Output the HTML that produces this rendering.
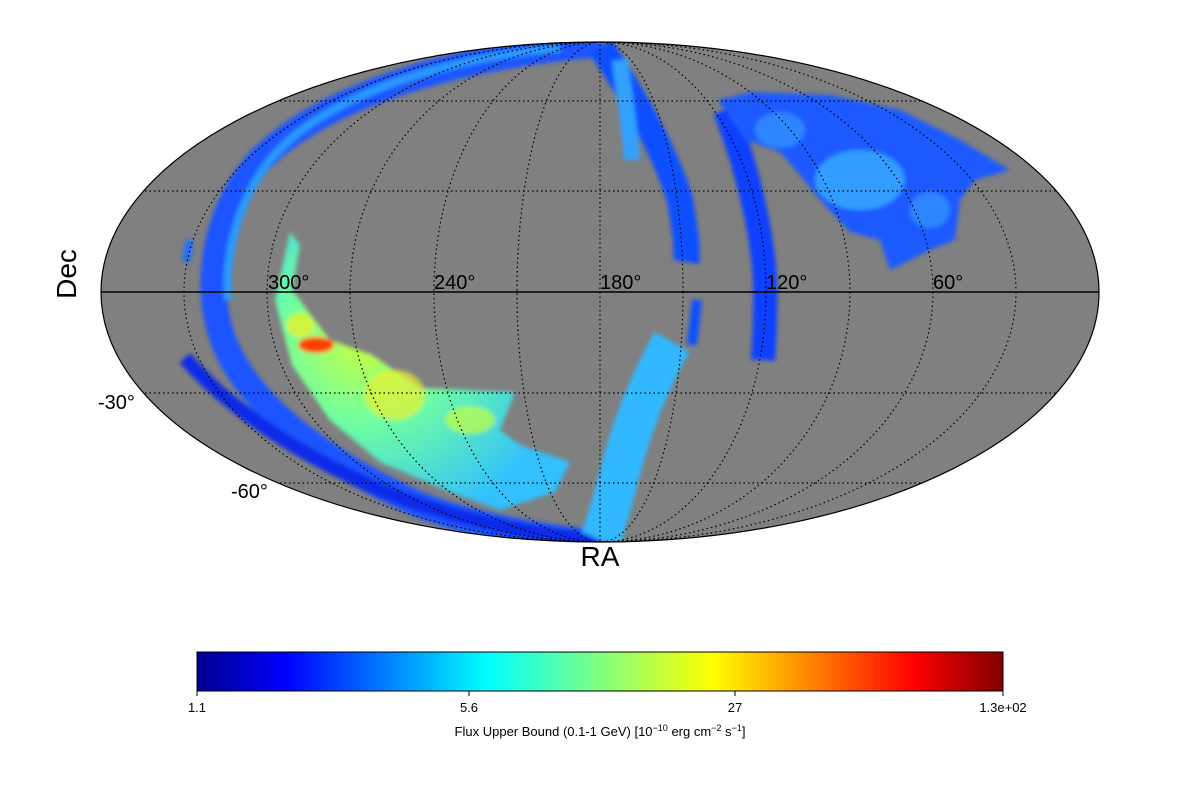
<!DOCTYPE html>
<html><head><meta charset="utf-8"><style>
html,body{margin:0;padding:0;background:#fff;width:1200px;height:800px;overflow:hidden}
svg{display:block}
text{font-family:"Liberation Sans","DejaVu Sans",sans-serif}
</style></head><body>
<svg width="1200" height="800" viewBox="0 0 1200 800">
<defs>
<clipPath id="ell"><ellipse cx="600" cy="292" rx="499" ry="250"/></clipPath>
<linearGradient id="jet" x1="0" x2="1" y1="0" y2="0">
<stop offset="0" stop-color="#00008f"/>
<stop offset="0.11" stop-color="#0000ff"/>
<stop offset="0.36" stop-color="#00ffff"/>
<stop offset="0.5" stop-color="#80ff80"/>
<stop offset="0.64" stop-color="#ffff00"/>
<stop offset="0.89" stop-color="#ff0000"/>
<stop offset="1" stop-color="#800000"/>
</linearGradient>
<radialGradient id="grn" cx="0.3" cy="0.4" r="0.7">
<stop offset="0" stop-color="#c8ff40"/>
<stop offset="0.4" stop-color="#70ffa0"/>
<stop offset="1" stop-color="#30c0ff"/>
</radialGradient>
<filter id="bl"><feGaussianBlur stdDeviation="2"/></filter>
</defs>
<ellipse cx="600" cy="292" rx="499" ry="250" fill="#808080"/>
<g clip-path="url(#ell)" filter="url(#bl)">
<!-- outer left arc -->
<path d="M600,44 C470,55 330,90 260,160 C215,210 205,280 220,330 C240,400 320,460 420,505 C480,528 560,540 600,542" fill="none" stroke="#1a55ff" stroke-width="26"/>
<path d="M560,48 C430,60 320,100 270,160 C235,205 225,260 228,300" fill="none" stroke="#2a9aff" stroke-width="8"/>
<path d="M185,358 C230,410 300,455 380,490 C450,518 530,535 600,540" fill="none" stroke="#0a2ce8" stroke-width="14"/>
<path d="M190,240 L186,262" stroke="#1a70ff" stroke-width="8"/>
<!-- big green patch -->
<path d="M290,232 L300,245 L292,290 L330,340 L372,355 L420,388 L515,392 L500,430 L520,445 L570,462 L555,492 L500,510 L450,492 L380,462 L330,420 L292,365 L275,300 Z" fill="url(#grn)"/>
<ellipse cx="395" cy="395" rx="30" ry="25" fill="#e8f030" opacity="0.7"/>
<ellipse cx="470" cy="420" rx="25" ry="14" fill="#c0ff40" opacity="0.7"/>
<ellipse cx="316" cy="345" rx="18" ry="8" fill="#ff4000"/>
<ellipse cx="300" cy="325" rx="14" ry="12" fill="#f0f020" opacity="0.7"/>
<!-- southern middle band -->
<path d="M672,342 C650,380 630,430 618,480 C610,510 605,528 600,540" fill="none" stroke="#30b8ff" stroke-width="40"/>
<!-- northern band right of 180 -->
<path d="M600,46 C630,90 665,150 680,200 C685,230 688,250 686,262" fill="none" stroke="#1050ff" stroke-width="26"/>
<path d="M620,60 C625,100 630,130 632,160" fill="none" stroke="#30a0ff" stroke-width="16"/>
<!-- band near 120 -->
<path d="M725,110 C748,170 762,230 765,280 C766,320 764,345 763,360" fill="none" stroke="#0c40ff" stroke-width="24"/>
<path d="M697,300 L692,345" stroke="#1050ff" stroke-width="10"/>
<!-- NE patch -->
<path d="M718,100 L752,92 L830,95 L900,110 L960,140 L1010,170 L975,180 L960,200 L955,240 L930,250 L890,270 L880,240 L850,232 L820,200 L800,175 L780,152 L745,140 Z" fill="#1a5aff"/>
<ellipse cx="860" cy="180" rx="45" ry="30" fill="#40c8ff" opacity="0.6"/>
<ellipse cx="780" cy="130" rx="25" ry="18" fill="#40b0ff" opacity="0.5"/>
<ellipse cx="930" cy="210" rx="20" ry="18" fill="#40b0ff" opacity="0.5"/>
</g>
<g clip-path="url(#ell)" fill="none" stroke="#000" stroke-width="1.2" stroke-dasharray="1.5,3">
<ellipse cx="600" cy="292" rx="83" ry="250"/>
<ellipse cx="600" cy="292" rx="166" ry="250"/>
<ellipse cx="600" cy="292" rx="250" ry="250"/>
<ellipse cx="600" cy="292" rx="333" ry="250"/>
<ellipse cx="600" cy="292" rx="416" ry="250"/>
<line x1="600" y1="40" x2="600" y2="545"/>
<line x1="100" y1="191" x2="1100" y2="191"/>
<line x1="100" y1="393" x2="1100" y2="393"/>
<line x1="100" y1="101" x2="1100" y2="101"/>
<line x1="100" y1="483" x2="1100" y2="483"/>
</g>
<line x1="101" y1="292" x2="1099" y2="292" stroke="#000" stroke-width="1.5"/>
<ellipse cx="600" cy="292" rx="499" ry="250" fill="none" stroke="#000" stroke-width="1.2"/>
<g font-size="20" fill="#000">
<text x="268" y="289">300°</text>
<text x="434" y="289">240°</text>
<text x="600" y="289">180°</text>
<text x="766" y="289">120°</text>
<text x="933" y="289">60°</text>
<text x="98" y="409">-30°</text>
<text x="231" y="498">-60°</text>
</g>
<text x="76" y="274" font-size="28" text-anchor="middle" transform="rotate(-90 76 274)">Dec</text>
<text x="600" y="566" font-size="28" text-anchor="middle">RA</text>
<rect x="197" y="652" width="806" height="39" fill="url(#jet)" stroke="#000" stroke-width="1"/>
<g stroke="#000"><line x1="197" y1="691" x2="197" y2="696"/><line x1="469" y1="691" x2="469" y2="696"/><line x1="735" y1="691" x2="735" y2="696"/><line x1="1003" y1="691" x2="1003" y2="696"/></g>
<g font-size="13" text-anchor="middle" fill="#000">
<text x="197" y="712">1.1</text>
<text x="469" y="712">5.6</text>
<text x="735" y="712">27</text>
<text x="1003" y="712">1.3e+02</text>
<text x="600" y="736">Flux Upper Bound (0.1-1 GeV) [10<tspan dy="-5" font-size="9">−10</tspan><tspan dy="5"> erg cm</tspan><tspan dy="-5" font-size="9">−2</tspan><tspan dy="5"> s</tspan><tspan dy="-5" font-size="9">−1</tspan><tspan dy="5">]</tspan></text>
</g>
</svg>
</body></html>
